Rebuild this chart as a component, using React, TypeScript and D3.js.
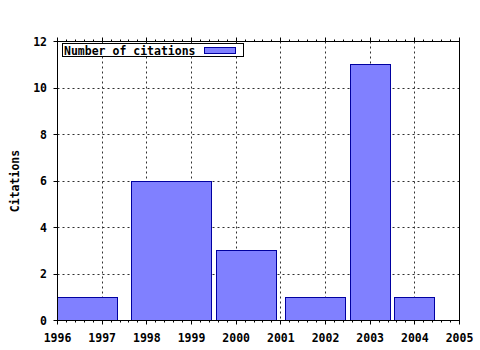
import React from "react";
import * as d3 from "d3";

const barStart = [1996, 1997.65, 1999.555, 2001.1, 2002.555, 2003.545];
const barEnd = [1997.345, 1999.445, 2000.9, 2002.445, 2003.45, 2004.44];
const citations = [1, 6, 3, 1, 11, 1];
const xTicks = [1996, 1997, 1998, 1999, 2000, 2001, 2002, 2003, 2004, 2005];
const yTicks = [0, 2, 4, 6, 8, 10, 12];
const seriesName = "Number of citations";
const yTitle = "Citations";

const W = 480;
const H = 350;
const L = 57.5, R = 459.5, T = 41.5, B = 320.5;
const FONT = "'DejaVu Sans Mono', monospace";

export default function App() {
  const x = d3.scaleLinear().domain([1996, 2005]).range([L, R]);
  const y = d3.scaleLinear().domain([0, 12]).range([B, T]);
  const px = (v: number) => Math.round(v - 0.5) + 0.5;
  const minor = d3.range(0, 45 + 1).map((i) => 1996 + i * 0.2);
  const fillC = "#8080ff";
  const strokeC = "#0000a0";
  const gridC = "#303030";
  return (
    <svg
      width={W}
      height={H}
      style={{ position: "absolute", left: 0, top: 0, background: "#fff" }}
      fontFamily={FONT}
      fontWeight="bold"
      fontSize={11.5}
    >
      <rect x={0} y={0} width={W} height={H} fill="#fff" />
      {/* grid */}
      {xTicks.slice(1, -1).map((t) => (
        <line key={"gx" + t} x1={px(x(t))} x2={px(x(t))} y1={T} y2={B} stroke={gridC} strokeDasharray="2,3" />
      ))}
      {yTicks.slice(1, -1).map((t) => (
        <line key={"gy" + t} x1={L} x2={R} y1={px(y(t))} y2={px(y(t))} stroke={gridC} strokeDasharray="2,3" />
      ))}
      {/* bars */}
      {citations.map((v, i) => {
        const x0 = px(x(barStart[i]));
        const x1 = px(x(barEnd[i]));
        const y0 = px(y(v));
        return (
          <rect key={"b" + i} x={x0} y={y0} width={x1 - x0} height={B - y0} fill={fillC} stroke={strokeC} strokeWidth={1} />
        );
      })}
      {/* border */}
      <rect x={L} y={T} width={R - L} height={B - T} fill="none" stroke="#000" strokeWidth={1} />
      {/* minor ticks */}
      {minor.map((t, i) => (
        <g key={"m" + i}>
          <line x1={px(x(t))} x2={px(x(t))} y1={B} y2={B + 2} stroke="#000" />
          <line x1={px(x(t))} x2={px(x(t))} y1={T} y2={T - 2} stroke="#000" />
        </g>
      ))}
      {/* major x ticks */}
      {xTicks.map((t) => (
        <g key={"xt" + t}>
          <line x1={px(x(t))} x2={px(x(t))} y1={B} y2={B + 4} stroke="#000" />
          <line x1={px(x(t))} x2={px(x(t))} y1={T} y2={T - 4} stroke="#000" />
          <text x={x(t)} y={341.5} textAnchor="middle" fill="#000">{t}</text>
        </g>
      ))}
      {/* y ticks */}
      {yTicks.map((t) => (
        <g key={"yt" + t}>
          <line x1={L - 4} x2={L} y1={px(y(t))} y2={px(y(t))} stroke="#000" />
          <text x={47} y={y(t)} dy="0.36em" textAnchor="end" fill="#000">{t}</text>
        </g>
      ))}
      {/* y title */}
      <text transform={`translate(18.5,${(T + B) / 2}) rotate(-90)`} textAnchor="middle" fill="#000">{yTitle}</text>
      {/* legend */}
      <rect x={62.5} y={43.5} width={181} height={13} fill="#fff" stroke="#000" />
      <text x={64} y={55} fill="#000">{seriesName}</text>
      <rect x={204.5} y={47.5} width={31} height={6} fill={fillC} stroke={strokeC} />
    </svg>
  );
}
